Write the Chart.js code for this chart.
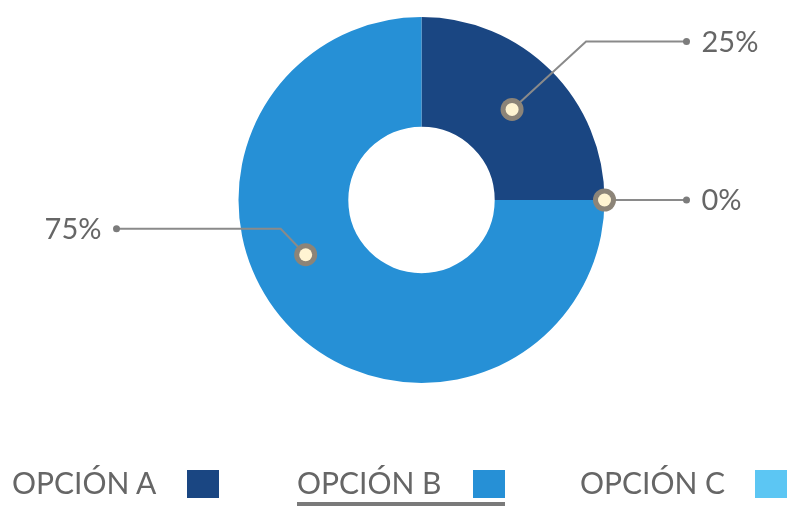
<!DOCTYPE html>
<html>
<head>
<meta charset="utf-8">
<script src="https://cdn.jsdelivr.net/npm/chart.js@4.4.1/dist/chart.umd.min.js"></script>
<style>
  html, body { margin: 0; padding: 0; background: #ffffff; }
  #wrap { position: relative; width: 789px; height: 510px; overflow: hidden; }
  #pie { position: absolute; left: 0; top: 0; }
  .item { position: absolute; top: 462px; font-family: Lato, "Open Sans", sans-serif; font-size: 30px; color: #666666; line-height: 40px; white-space: nowrap; }
  .item .box { position: absolute; top: 8px; width: 32px; height: 28px; }
  .item.active { border-bottom: 4px solid #7a7a7a; }
</style>
</head>
<body>
<div id="wrap">
  <canvas id="pie" width="789" height="510"></canvas>
  <div id="legend"></div>
</div>
<script>
// chart order clockwise from 12 o'clock: A, C (0%), B
const labels = ['OPCIÓN A', 'OPCIÓN C', 'OPCIÓN B'];
const values = [25, 0, 75];
const colors = ['#1a4682', '#5cc6f3', '#2690d6'];

// legend order as in the picture
const legendLabels = ['OPCIÓN A', 'OPCIÓN B', 'OPCIÓN C'];
const legendColors = ['#1a4682', '#2690d6', '#5cc6f3'];

// callout layout per slice (frac = where in the slice, rad = 0 inner .. 1 outer)
const callouts = [
    { frac: 0.5, rad: 0.5, ex: 74, ey: -68, endX: 265, side: 1 },
    { frac: 0.5, rad: 1.0, ex: 0, ey: 0, endX: 265, side: 1 },
    { frac: 0.573, rad: 0.5, ex: -25, ey: -26, endX: -305, side: -1 }
];

const calloutPlugin = {
    id: 'callouts',
    afterDatasetsDraw(chart) {
        const c = chart.ctx;
        const arcs = chart.getDatasetMeta(0).data;
        arcs.forEach(function (arc, i) {
            const p = arc.getProps(['x', 'y', 'startAngle', 'endAngle', 'innerRadius', 'outerRadius'], true);
            const o = callouts[i];
            const a = p.startAngle + (p.endAngle - p.startAngle) * o.frac;
            const r = p.innerRadius + (p.outerRadius - p.innerRadius) * o.rad;
            const ax = p.x + Math.cos(a) * r;
            const ay = p.y + Math.sin(a) * r;
            const bx = ax + o.ex, by = ay + o.ey;
            const endX = p.x + o.endX;

            c.save();
            c.strokeStyle = '#8a8a8a';
            c.lineWidth = 2;
            c.beginPath();
            c.moveTo(ax, ay);
            c.lineTo(bx, by);
            c.lineTo(endX, by);
            c.stroke();

            c.fillStyle = '#7c7c7c';
            c.beginPath();
            c.arc(endX, by, 3.5, 0, Math.PI * 2);
            c.fill();

            // ring marker
            c.fillStyle = '#8c8478';
            c.beginPath();
            c.arc(ax, ay, 11.5, 0, Math.PI * 2);
            c.fill();
            c.fillStyle = '#fff4d2';
            c.beginPath();
            c.arc(ax, ay, 6.5, 0, Math.PI * 2);
            c.fill();

            c.fillStyle = '#666666';
            c.font = '29px Lato, "Open Sans", sans-serif';
            c.textBaseline = 'middle';
            c.textAlign = o.side > 0 ? 'left' : 'right';
            c.fillText(values[i] + '%', endX + o.side * 15, by + 1);
            c.restore();
        });
    }
};

new Chart(document.getElementById('pie'), {
    type: 'doughnut',
    data: {
        labels: labels,
        datasets: [{
            data: values,
            backgroundColor: colors,
            borderWidth: 0
        }]
    },
    options: {
        responsive: false,
        animation: false,
        cutout: '40%',
        layout: { padding: { top: 17, bottom: 127, left: 54, right: 0 } },
        plugins: {
            legend: { display: false },
            tooltip: { enabled: false }
        }
    },
    plugins: [calloutPlugin]
});

// html legend
const legendX = [12, 297, 580];
const legendBoxX = [175, 176, 175];
const legend = document.getElementById('legend');
legendLabels.forEach(function (name, i) {
    const d = document.createElement('div');
    d.className = 'item' + (i === 1 ? ' active' : '');
    d.style.left = legendX[i] + 'px';
    d.style.width = (legendBoxX[i] + 32) + 'px';
    d.textContent = name;
    const b = document.createElement('span');
    b.className = 'box';
    b.style.left = legendBoxX[i] + 'px';
    b.style.background = legendColors[i];
    d.appendChild(b);
    legend.appendChild(d);
});
</script>
</body>
</html>
